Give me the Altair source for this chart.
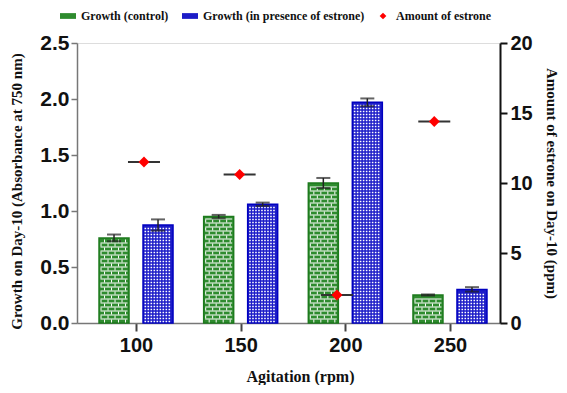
import altair as alt
import pandas as pd

# ---------------- data ----------------
rpm = [100, 150, 200, 250]
growth_control = [0.76, 0.95, 1.25, 0.25]
growth_control_err = [0.03, 0.015, 0.045, 0.005]
growth_estrone = [0.875, 1.06, 1.97, 0.30]
growth_estrone_err = [0.05, 0.015, 0.035, 0.02]
estrone_amount = [11.5, 10.6, 2.0, 14.4]
estrone_marker_rpm = [103.8, 149.5, 196.0, 242.5]   # where each marker is drawn
series_names = ["Growth  (control)", "Growth (in presence of estrone)", "Amount of estrone"]
series_colors = ["#2e8b2e", "#1c1cc8", "#ff0000"]
bar_stroke_colors = ["#1d7a1d", "#0000c0"]

# ---------------- layout / style constants ----------------
W, H = 423, 280
X_DOMAIN = [71.8, 273.9]
Y_LEFT = [0, 2.5]
Y_RIGHT = [0, 20]
RPX = (X_DOMAIN[1] - X_DOMAIN[0]) / W      # rpm per pixel
YPX = (Y_LEFT[1] - Y_LEFT[0]) / H          # absorbance per pixel
BAR_OFFSET_PX = 22
BAR_HALF_PX = 15

# ---------------- tables ----------------
rows = []
for i, r in enumerate(rpm):
    for s, vals, errs, sign in [(series_names[0], growth_control, growth_control_err, -1),
                                (series_names[1], growth_estrone, growth_estrone_err, 1)]:
        c = r + sign * BAR_OFFSET_PX * RPX
        rows.append(dict(rpm=r, series=s, value=vals[i], err=errs[i], zero=0.0,
                         lo=vals[i] - errs[i], hi=vals[i] + errs[i],
                         center=c, left=c - BAR_HALF_PX * RPX, right=c + BAR_HALF_PX * RPX,
                         ileft=c - (BAR_HALF_PX - 1.5) * RPX, iright=c + (BAR_HALF_PX - 1.5) * RPX))
bars = pd.DataFrame(rows)

# texture rows (derived from bar heights)
brick_lines, brick_joints, mesh_rows = [], [], []
for _, b in bars.iterrows():
    top_px = b["value"] / YPX
    if b["series"] == series_names[0]:
        k = 1
        while k * 4 < top_px - 1.5:
            brick_lines.append(dict(y=k * 4 * YPX, left=b["ileft"], right=b["iright"]))
            k += 1
        k = 1
        while k * 4 - 2 < top_px - 2:
            brick_joints.append(dict(y=(k * 4 - 2) * YPX, left=b["ileft"], right=b["iright"], par=k % 2))
            k += 1
    else:
        k = 1
        while k * 3 - 1 < top_px - 2:
            mesh_rows.append(dict(y=(k * 3 - 1.5) * YPX, left=b["ileft"], right=b["iright"]))
            k += 1
brick_lines = pd.DataFrame(brick_lines)
brick_joints = pd.DataFrame(brick_joints)
mesh_rows = pd.DataFrame(mesh_rows)

amount = pd.DataFrame(dict(rpm=rpm, pos=estrone_marker_rpm, amount=estrone_amount,
                           series=series_names[2]))
amount["l"] = amount["pos"] - 16 * RPX
amount["r"] = amount["pos"] + 16 * RPX

# ---------------- scales / axes ----------------
SANS = "Liberation Sans"
SERIF = "Liberation Serif"
x_scale = alt.Scale(domain=X_DOMAIN, nice=False, zero=False)
x_axis = alt.Axis(values=rpm, format="d", labelFont=SANS, labelFontWeight="bold", labelFontSize=20,
                  labelColor="#111", domainColor="#777", domainWidth=1.5, tickColor="#444",
                  tickWidth=2, tickSize=8, labelPadding=4, grid=False,
                  titleFont=SERIF, titleFontSize=16, titleFontWeight="bold", titleColor="#111",
                  titleX=223, titleY=53, titleBaseline="middle", titleAnchor="start", titleAlign="center")
yl_scale = alt.Scale(domain=Y_LEFT, nice=False)
yl_axis = alt.Axis(values=[0, 0.5, 1, 1.5, 2, 2.5], format=".1f", labelFont=SANS, labelFontWeight="bold",
                   labelFontSize=21, labelColor="#111", domainColor="#777", domainWidth=1.5,
                   tickColor="#777", tickWidth=1.5, tickSize=6, labelPadding=2, grid=False,
                   titleFont=SERIF, titleFontSize=15, titleFontWeight="bold", titleColor="#111",
                   titleX=-61, titleY=148, titleAngle=-90, titleBaseline="middle", titleAlign="center",
                   titleAnchor="start")
yr_scale = alt.Scale(domain=Y_RIGHT, nice=False)
yr_axis = alt.Axis(orient="right", values=[0, 5, 10, 15, 20], labelFont=SANS, labelFontWeight="bold",
                   labelFontSize=20, labelColor="#111", domainColor="#111", domainWidth=2,
                   tickColor="#111", tickWidth=2, tickSize=7, labelPadding=3, grid=False,
                   titleFont=SERIF, titleFontSize=15, titleFontWeight="bold", titleColor="#111",
                   titleX=51, titleY=140, titleAngle=90, titleBaseline="middle", titleAlign="center",
                   titleAnchor="start")
X_TITLE = "Agitation (rpm)"
YL_TITLE = "Growth on Day-10 (Absorbance at 750 nm)"
YR_TITLE = "Amount of estrone on Day-10 (ppm)"


def X(f):
    return alt.X(f, type="quantitative", scale=x_scale, axis=x_axis, title=X_TITLE)


def YL(f):
    return alt.Y(f, type="quantitative", scale=yl_scale, axis=yl_axis, title=YL_TITLE)


color_scale = alt.Scale(domain=series_names, range=series_colors)
shape_scale = alt.Scale(domain=series_names,
                        range=["M-1,-0.36H1V0.36H-1Z", "M-1,-0.36H1V0.36H-1Z",
                               "M0,-0.42L0.42,0L0,0.42L-0.42,0Z"])
legend = alt.Legend(title=None, orient="none", legendX=-17, legendY=-35, direction="horizontal",
                    labelFont=SERIF, labelFontWeight="bold", labelFontSize=12, labelColor="#111",
                    labelLimit=300, symbolSize=256, symbolStrokeWidth=0, columnPadding=10,
                    labelOffset=5)

bar_fill = alt.Chart(bars).mark_bar(strokeWidth=1.5).encode(
    x=X("left"), x2="right", y=YL("value"), y2="zero",
    color=alt.Color("series:N", scale=color_scale, legend=legend),
    stroke=alt.Stroke("series:N", scale=alt.Scale(domain=series_names[:2], range=bar_stroke_colors),
                      legend=None),
)
bl = alt.Chart(brick_lines).mark_rule(color="white", strokeWidth=1).encode(
    x=X("left"), x2="right", y=YL("y"))
bj0 = alt.Chart(brick_joints).transform_filter("datum.par == 0").mark_rule(
    color="white", strokeWidth=3, strokeDash=[1, 6]).encode(x=X("left"), x2="right", y=YL("y"))
bj1 = alt.Chart(brick_joints).transform_filter("datum.par == 1").mark_rule(
    color="white", strokeWidth=3, strokeDash=[1, 6], strokeDashOffset=3.5).encode(
    x=X("left"), x2="right", y=YL("y"))
mesh = alt.Chart(mesh_rows).mark_rule(color="white", strokeWidth=1.6, strokeDash=[1.6, 1.4]).encode(
    x=X("left"), x2="right", y=YL("y"))
err_rule = alt.Chart(bars).mark_rule(color="#222", strokeWidth=1.5).encode(
    x=X("center"), y=YL("lo"), y2="hi")
cap_hi = alt.Chart(bars).mark_tick(color="#222", orient="horizontal", size=14, thickness=2).encode(
    x=X("center"), y=YL("hi"))
cap_lo = alt.Chart(bars).mark_tick(color="#222", orient="horizontal", size=14, thickness=2).encode(
    x=X("center"), y=YL("lo"))

left = alt.layer(bar_fill, bl, bj0, bj1, mesh, err_rule, cap_hi, cap_lo)

amt_line = alt.Chart(amount).mark_rule(color="#333", strokeWidth=2).encode(
    x=X("l"), x2="r",
    y=alt.Y("amount:Q", scale=yr_scale, axis=yr_axis, title=YR_TITLE))
amt_pt = alt.Chart(amount).mark_point(filled=True, opacity=1, size=680, strokeWidth=0).encode(
    x=X("pos"),
    y=alt.Y("amount:Q", scale=yr_scale, axis=yr_axis, title=YR_TITLE),
    color=alt.Color("series:N", scale=color_scale, legend=legend),
    shape=alt.Shape("series:N", scale=shape_scale, legend=legend),
)
right = alt.layer(amt_line, amt_pt)

chart = alt.layer(left, right).resolve_scale(y="independent").properties(
    width=W, height=H,
    autosize=alt.AutoSizeParams(type="none"),
    padding={"left": 69, "top": 35, "right": 59, "bottom": 62},
).configure_view(stroke=None).configure(background="white")

chart.save("out.html", embed_options={"renderer": "svg", "actions": False})
